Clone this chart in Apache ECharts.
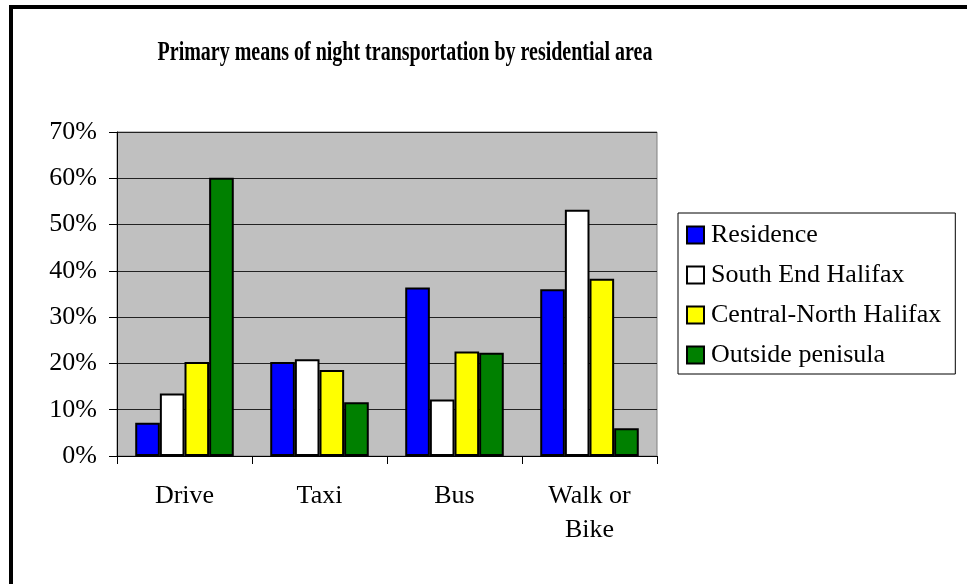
<!DOCTYPE html>
<html>
<head>
<meta charset="utf-8">
<script src="https://cdn.jsdelivr.net/npm/echarts@6/dist/echarts.min.js"></script>
<style>
  html, body { margin: 0; padding: 0; background: #fff; }
  #chart { width: 967px; height: 584px; }
</style>
</head>
<body>
<div id="chart"></div>
<script>
const categories = ['Drive', 'Taxi', 'Bus', 'Walk or\nBike']
const seriesNames = ['Residence', 'South End Halifax', 'Central-North Halifax', 'Outside penisula']
const residence = [7.2, 20.3, 36.4, 36.0]
const southEnd = [13.5, 20.9, 12.2, 53.2]
const centralNorth = [20.3, 18.6, 22.6, 38.3]
const outside = [60.1, 11.6, 22.3, 6.0]
const colors = ['#0000ff', '#ffffff', '#ffff00', '#008000']

const FONT = '"Liberation Serif", "Times New Roman", serif'
const chart = echarts.init(document.getElementById('chart'), null, { renderer: 'canvas' })

const values = [residence, southEnd, centralNorth, outside]
const series = values.map((data, i) => ({
    name: seriesNames[i],
    type: 'bar',
    data: data,
    barGap: '0%',
    barCategoryGap: '27%',
    itemStyle: { color: colors[i], borderColor: '#000', borderWidth: 2 },
    emphasis: { disabled: true }
}))

chart.setOption({
    animation: false,
    backgroundColor: '#fff',
    graphic: [
        {
            // frame round the chart (only top and left edges are visible)
            type: 'rect',
            shape: { x: 11, y: 7, width: 1200, height: 1000 },
            style: { fill: 'none', stroke: '#000', lineWidth: 4 },
            silent: true
        },
        {
            type: 'text',
            x: 405,
            y: 53,
            scaleX: 0.74,
            style: {
                text: 'Primary means of night transportation by residential area',
                font: 'bold 27px ' + FONT,
                fill: '#000',
                textAlign: 'center',
                textVerticalAlign: 'middle'
            }
        }
    ],
    grid: {
        left: 117,
        right: 310,
        top: 132,
        bottom: 128,
        show: true,
        backgroundColor: '#c0c0c0',
        borderColor: '#808080',
        borderWidth: 1
    },
    legend: {
        orient: 'vertical',
        left: 678,
        top: 213,
        padding: [9, 14, 6, 8],
        itemWidth: 17,
        itemHeight: 17,
        itemGap: 14,
        icon: 'rect',
        borderColor: '#000',
        borderWidth: 1,
        textStyle: { fontFamily: FONT, fontSize: 26, color: '#000', lineHeight: 26, padding: [0, 0, 0, 2] },
        data: seriesNames
    },
    xAxis: {
        type: 'category',
        data: categories,
        axisLine: { lineStyle: { color: '#000', width: 1 } },
        axisTick: { show: true, length: 8, lineStyle: { color: '#000' } },
        axisLabel: { fontFamily: FONT, fontSize: 26, color: '#000', lineHeight: 34, margin: 23 },
        splitLine: { show: false }
    },
    yAxis: {
        type: 'value',
        min: 0,
        max: 70,
        interval: 10,
        axisLine: { show: true, lineStyle: { color: '#000', width: 1 } },
        axisTick: { show: true, length: 8, lineStyle: { color: '#000' } },
        axisLabel: { fontFamily: FONT, fontSize: 26, color: '#000', margin: 20, formatter: '{value}%' },
        splitLine: { show: true, lineStyle: { color: '#222', width: 1 } }
    },
    series: series
})
</script>
</body>
</html>
